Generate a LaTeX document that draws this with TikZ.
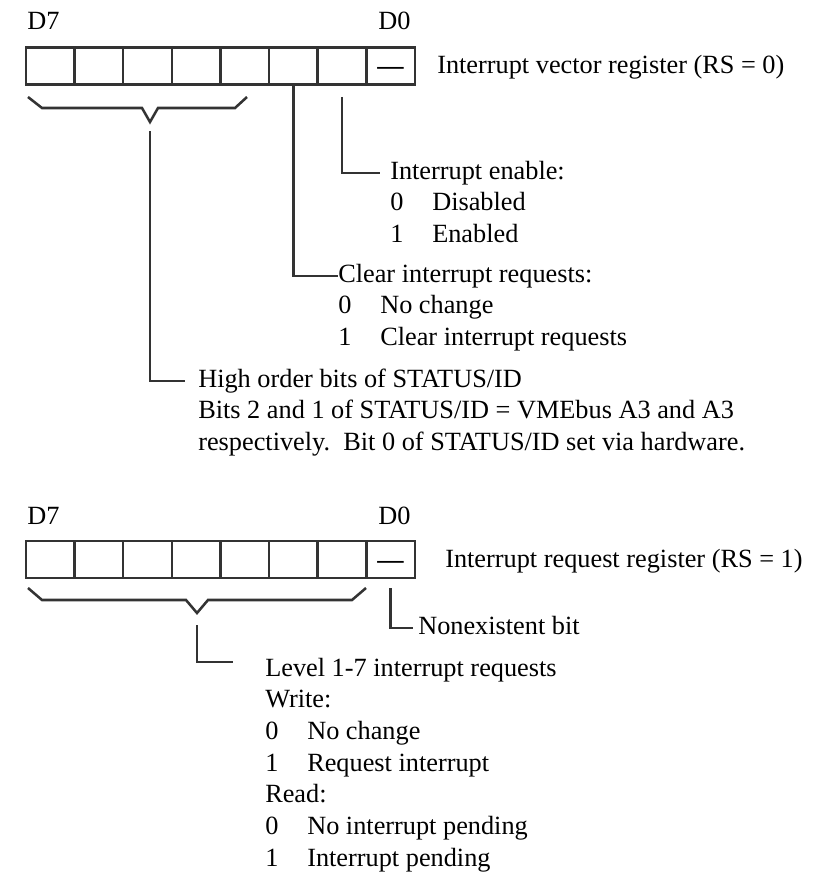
\documentclass[tikz,border=0pt]{standalone}
\usepackage{fontspec}
\setmainfont{Liberation Serif}
\usetikzlibrary{positioning}

\tikzset{
  bit/.style={draw=black!80, line width=1.8pt, minimum width=1.215cm,
    minimum height=0.925cm, inner sep=0pt, outer sep=0pt,
    font=\fontsize{18.7pt}{22.5pt}\selectfont},
  txt/.style={inner sep=0pt, anchor=west, text height=13pt, text depth=4pt,
    font=\fontsize{18.7pt}{22.5pt}\selectfont},
  wire/.style={draw=black!80, line width=1.8pt},
}
\newcommand{\opt}[2]{\makebox[1.05cm][l]{#1}#2}
\newcommand{\nobitmark}{\raisebox{-6.3pt}[0pt][0pt]{\textbf{---}}}

\begin{document}
\begin{tikzpicture}[x=0.025cm, y=-0.025cm]
  \useasboundingbox (0,0) rectangle (816,877);

  % interrupt vector register
  \node[txt] (vd7) at (27,23) {D7};
  \node[txt] (vd0) at (378,23) {D0};
  \node[bit] (v7) at (50.3,66) {};
  \node[bit, right=0pt of v7] (v6) {};
  \node[bit, right=0pt of v6] (v5) {};
  \node[bit, right=0pt of v5] (v4) {};
  \node[bit, right=0pt of v4] (v3) {};
  \node[bit, right=0pt of v3] (v2) {};
  \node[bit, right=0pt of v2] (v1) {};
  \node[bit, right=0pt of v1] (v0) {\nobitmark};
  \node[txt] (vname) at (437,67) {Interrupt vector register (RS = 0)};

  \node[txt] (enable) at (390,173) {Interrupt enable:};
  \node[txt, below=22.5pt of enable.west, anchor=west] (dis) {\opt{0}{Disabled}};
  \node[txt, below=22.5pt of dis.west, anchor=west] (ena) {\opt{1}{Enabled}};

  \node[txt] (clear) at (338,276) {Clear interrupt requests:};
  \node[txt, below=22.5pt of clear.west, anchor=west] (nochg) {\opt{0}{No change}};
  \node[txt, below=22.5pt of nochg.west, anchor=west] (clr) {\opt{1}{Clear interrupt requests}};

  \node[txt] (high) at (198,381) {High order bits of STATUS/ID};
  \node[txt, below=22.5pt of high.west, anchor=west] (bits) {Bits 2 and 1 of STATUS/ID = VMEbus A3 and A3};
  \node[txt, below=22.5pt of bits.west, anchor=west] (resp) {respectively.\ \ Bit 0 of STATUS/ID set via hardware.};

  % brace over D7-D3
  \draw[wire] (28,97) -- (42,108) -- (142,108) -- (150,122) -- (158,108) -- (235,108) -- (247,97);
  \coordinate (vtip) at (150,131);

  \draw[wire, shorten >=0.25cm] ([yshift=-0.31cm]v1.south) |- (enable.west);
  \draw[wire] (v2.south) |- (clear.west);
  \draw[wire, shorten >=0.33cm] (vtip) |- (high.west);

  % interrupt request register
  \node[txt] (rd7) at (27,518) {D7};
  \node[txt] (rd0) at (378,518) {D0};
  \node[bit] (r7) at (50.3,559.5) {};
  \node[bit, right=0pt of r7] (r6) {};
  \node[bit, right=0pt of r6] (r5) {};
  \node[bit, right=0pt of r5] (r4) {};
  \node[bit, right=0pt of r4] (r3) {};
  \node[bit, right=0pt of r3] (r2) {};
  \node[bit, right=0pt of r2] (r1) {};
  \node[bit, right=0pt of r1] (r0) {\nobitmark};
  \node[txt] (rname) at (445,561) {Interrupt request register (RS = 1)};

  \node[txt] (nobit) at (418,628) {Nonexistent bit};

  \node[txt] (level) at (265,670) {Level 1-7 interrupt requests};
  \node[txt, below=22.5pt of level.west, anchor=west] (wr) {Write:};
  \node[txt, below=22.5pt of wr.west, anchor=west] (wr0) {\opt{0}{No change}};
  \node[txt, below=22.5pt of wr0.west, anchor=west] (wr1) {\opt{1}{Request interrupt}};
  \node[txt, below=22.5pt of wr1.west, anchor=west] (rd) {Read:};
  \node[txt, below=22.5pt of rd.west, anchor=west] (rd0) {\opt{0}{No interrupt pending}};
  \node[txt, below=22.5pt of rd0.west, anchor=west] (rd1) {\opt{1}{Interrupt pending}};

  % brace over D7-D1
  \draw[wire] (28,588) -- (42,600) -- (186,600) -- (197,613) -- (208,600) -- (352,600) -- (366,588);
  \coordinate (rtip) at (197,625);

  \draw[wire, shorten >=0.125cm] ([yshift=-0.25cm]r0.south) |- (nobit.west);
  \draw[wire, shorten >=0.8cm] (rtip) |- ([yshift=0.2cm]level.west);
\end{tikzpicture}
\end{document}
